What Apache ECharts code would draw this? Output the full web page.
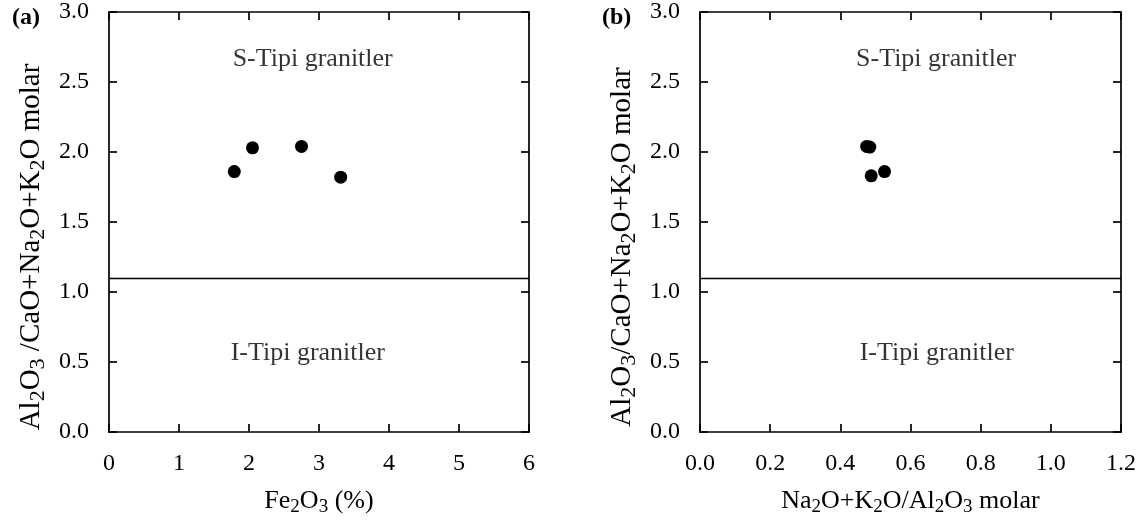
<!DOCTYPE html>
<html>
<head>
<meta charset="utf-8">
<script src="https://cdn.jsdelivr.net/npm/echarts@6/dist/echarts.min.js"></script>
<style>
  html, body { margin: 0; padding: 0; background: #fff; }
  #chart { width: 1143px; height: 522px; }
</style>
</head>
<body>
<div id="chart"></div>
<script>
// Sample values: Fe2O3 (%), alkali/alumina molar ratio and A/CNK molar index
const fe2o3 = [1.79, 2.05, 2.75, 3.31];
const acnkA = [1.86, 2.03, 2.04, 1.82];
const nkA = [0.475, 0.484, 0.488, 0.526];
const acnkB = [2.04, 2.035, 1.83, 1.86];

// S/I-type boundary and field labels
const boundary = 1.1;
const fieldNames = ['S-Tipi granitler', 'I-Tipi granitler'];
const fieldPosA = [[2.91, 2.66], [2.84, 0.56]];
const fieldPosB = [[0.673, 2.66], [0.675, 0.565]];

// Axis ranges and tick steps
const xRangeA = [0, 6], xStepA = 1;
const xRangeB = [0, 1.2], xStepB = 0.2;
const yRange = [0, 3], yStep = 0.5;

const FONT = 'Liberation Serif';
const TICK_FS = 24;
const FIELD_FS = 26;

function subRich(sub, drop) {
  return { s: { fontFamily: FONT, fontSize: sub, padding: [drop, 0, 0, 0], color: '#000' } };
}

const axisLine = { show: true, onZero: false, lineStyle: { color: '#000', width: 1.7 } };
const tickIn = { show: true, inside: true, length: 8, lineStyle: { color: '#000', width: 1.7 } };

function xAxes(gridIndex, range, step, name, digits) {
  return [
    {
      type: 'value', gridIndex, min: range[0], max: range[1], interval: step,
      position: 'bottom',
      axisLine, axisTick: tickIn, splitLine: { show: false },
      axisLabel: { margin: 20, color: '#000', fontFamily: FONT, fontSize: TICK_FS,
        formatter: v => v.toFixed(digits) },
      name, nameLocation: 'middle', nameGap: 54,
      nameTextStyle: { color: '#000', fontFamily: FONT, fontSize: 26, rich: subRich(19, 12) }
    },
    {
      type: 'value', gridIndex, min: range[0], max: range[1], interval: step,
      position: 'top',
      axisLine, axisTick: tickIn, axisLabel: { show: false }, splitLine: { show: false }
    }
  ];
}

function yAxes(gridIndex, name) {
  return [
    {
      type: 'value', gridIndex, min: yRange[0], max: yRange[1], interval: yStep,
      position: 'left',
      axisLine, axisTick: tickIn, splitLine: { show: false },
      axisLabel: { margin: 20, color: '#000', fontFamily: FONT, fontSize: TICK_FS,
        formatter: v => v.toFixed(1) },
      name, nameLocation: 'middle', nameGap: 60,
      // title sits a little below the axis midpoint
      nameTextStyle: { color: '#000', fontFamily: FONT, fontSize: 29,
        padding: [0, 50, 0, 0], rich: subRich(22, 14) }
    },
    {
      type: 'value', gridIndex, min: yRange[0], max: yRange[1], interval: yStep,
      position: 'right',
      axisLine, axisTick: tickIn, axisLabel: { show: false }, splitLine: { show: false }
    }
  ];
}

function panelSeries(axisBase, xs, ys, labelPos) {
  const ax = { xAxisIndex: axisBase, yAxisIndex: axisBase };
  return [
    {
      type: 'scatter', ...ax,
      symbol: 'circle', symbolSize: 13,
      itemStyle: { color: '#000', opacity: 1 },
      data: xs.map((x, i) => [x, ys[i]]),
      markLine: {
        silent: true, symbol: 'none',
        label: { show: false },
        lineStyle: { color: '#000', width: 1.4, type: 'solid', opacity: 1 },
        data: [{ yAxis: boundary }]
      },
      z: 3
    },
    {
      type: 'scatter', ...ax,
      symbolSize: 0, silent: true,
      label: {
        show: true, position: 'inside', color: '#000',
        fontFamily: FONT, fontSize: FIELD_FS,
        formatter: p => p.name
      },
      data: labelPos.map((p, i) => ({ name: fieldNames[i], value: p }))
    }
  ];
}

const nameA_y = 'Al{s|2}O{s|3} /CaO+Na{s|2}O+K{s|2}O molar';
const nameB_y = 'Al{s|2}O{s|3}/CaO+Na{s|2}O+K{s|2}O molar';
const nameA_x = 'Fe{s|2}O{s|3} (%)';
const nameB_x = 'Na{s|2}O+K{s|2}O/Al{s|2}O{s|3} molar';

const chart = echarts.init(document.getElementById('chart'), null, { renderer: 'canvas' });
chart.setOption({
  backgroundColor: '#fff',
  animation: false,
  grid: [
    { left: 109, top: 12, width: 420, height: 420 },
    { left: 700, top: 12, width: 421, height: 420 }
  ],
  xAxis: [
    ...xAxes(0, xRangeA, xStepA, nameA_x, 0),
    ...xAxes(1, xRangeB, xStepB, nameB_x, 1)
  ],
  yAxis: [
    ...yAxes(0, nameA_y),
    ...yAxes(1, nameB_y)
  ],
  series: [
    ...panelSeries(0, fe2o3, acnkA, fieldPosA),
    ...panelSeries(2, nkA, acnkB, fieldPosB)
  ],
  graphic: [
    { type: 'text', left: 12, top: 6,
      style: { text: '(a)', font: 'bold 24px "Liberation Serif"', fill: '#000' } },
    { type: 'text', left: 602, top: 6,
      style: { text: '(b)', font: 'bold 24px "Liberation Serif"', fill: '#000' } }
  ]
});
</script>
</body>
</html>
